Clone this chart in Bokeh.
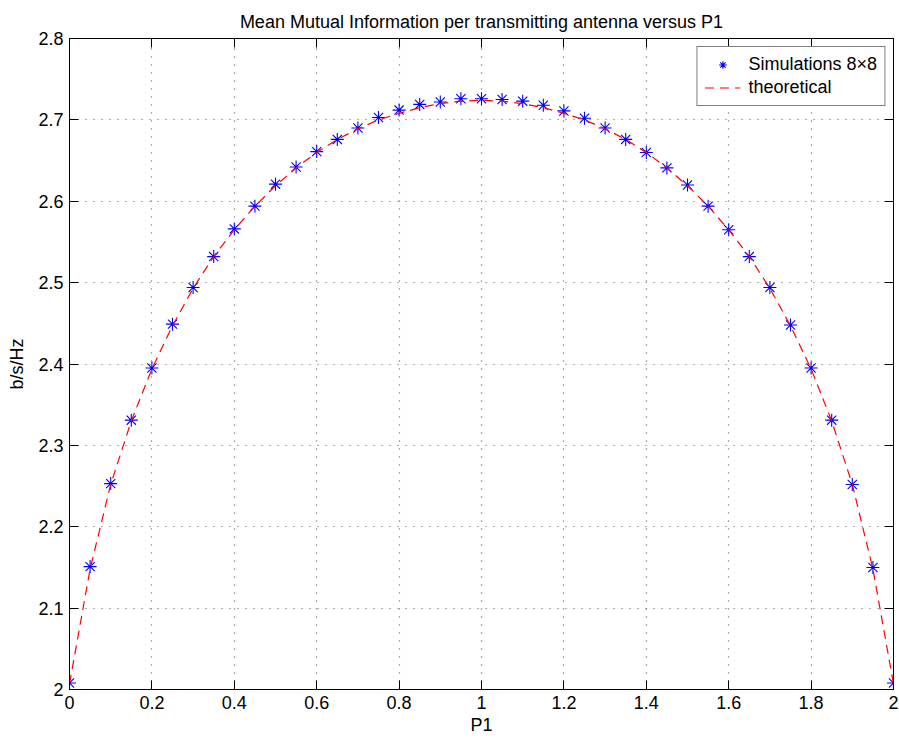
from bokeh.plotting import figure
from bokeh.models import (ColumnDataSource, Range1d, FixedTicker, LinearAxis,
                          Legend, LegendItem)
from bokeh.embed import file_html
from bokeh.resources import INLINE

# ---- data ----
p1 = [0.00, 0.05, 0.10, 0.15, 0.20, 0.25, 0.30, 0.35, 0.40, 0.45,
      0.50, 0.55, 0.60, 0.65, 0.70, 0.75, 0.80, 0.85, 0.90, 0.95,
      1.00, 1.05, 1.10, 1.15, 1.20, 1.25, 1.30, 1.35, 1.40, 1.45,
      1.50, 1.55, 1.60, 1.65, 1.70, 1.75, 1.80, 1.85, 1.90, 1.95, 2.00]
sim_8x8 = [2.008, 2.151, 2.253, 2.331, 2.395, 2.449, 2.494, 2.532, 2.566, 2.594,
           2.621, 2.642, 2.661, 2.676, 2.690, 2.703, 2.712, 2.719, 2.722, 2.726,
           2.726, 2.725, 2.723, 2.718, 2.711, 2.702, 2.690, 2.676, 2.660, 2.641,
           2.620, 2.594, 2.565, 2.532, 2.494, 2.448, 2.395, 2.331, 2.252, 2.150, 2.008]
theoretical = [2.007, 2.148, 2.252, 2.330, 2.394, 2.447, 2.493, 2.532, 2.565, 2.594,
               2.619, 2.641, 2.660, 2.676, 2.689, 2.700, 2.708, 2.715, 2.720, 2.723,
               2.724, 2.723, 2.720, 2.715, 2.708, 2.700, 2.689, 2.676, 2.660, 2.641,
               2.619, 2.594, 2.565, 2.532, 2.493, 2.447, 2.394, 2.330, 2.252, 2.148, 2.007]

x_ticks = [0.0, 0.2, 0.4, 0.6, 0.8, 1.0, 1.2, 1.4, 1.6, 1.8, 2.0]
x_tick_labels = ["0", "0.2", "0.4", "0.6", "0.8", "1", "1.2", "1.4", "1.6", "1.8", "2"]
y_ticks = [2.0, 2.1, 2.2, 2.3, 2.4, 2.5, 2.6, 2.7, 2.8]
y_tick_labels = ["2", "2.1", "2.2", "2.3", "2.4", "2.5", "2.6", "2.7", "2.8"]

title_text = "Mean Mutual Information per transmitting antenna versus P1"
x_label = "P1"
y_label = "b/s/Hz"
sim_label = "Simulations 8\u00d78"
theo_label = "theoretical"

FONT = "Liberation Sans"

src_sim = ColumnDataSource(dict(x=p1, y=sim_8x8))
src_theo = ColumnDataSource(dict(x=p1, y=theoretical))

p = figure(width=899, height=740, output_backend="svg", toolbar_location=None,
           x_range=Range1d(0, 2), y_range=Range1d(2, 2.8),
           min_border_left=69, min_border_right=6, min_border_top=38,
           min_border_bottom=51, x_axis_label=x_label, y_axis_label=y_label)

p.background_fill_color = "white"
p.border_fill_color = "white"
p.outline_line_color = "black"
p.outline_line_width = 1

p.title.text = title_text
p.title.align = "center"
p.title.text_font = FONT
p.title.text_font_size = "18px"
p.title.text_font_style = "normal"
p.title.text_color = "black"
p.title.standoff = 14

for ax, ticks, labels in ((p.xaxis[0], x_ticks, x_tick_labels),
                          (p.yaxis[0], y_ticks, y_tick_labels)):
    ax.ticker = FixedTicker(ticks=ticks)
    ax.major_label_overrides = {t: l for t, l in zip(ticks, labels)}
    ax.major_tick_in = 9
    ax.major_tick_out = 0
    ax.minor_tick_in = 0
    ax.minor_tick_out = 0
    ax.major_tick_line_color = "black"
    ax.axis_line_color = "black"
    ax.major_label_text_font = FONT
    ax.major_label_text_font_size = "18px"
    ax.major_label_text_color = "black"
    ax.major_label_standoff = 6
    ax.axis_label_text_font = FONT
    ax.axis_label_text_font_size = "18px"
    ax.axis_label_text_font_style = "normal"
    ax.axis_label_text_color = "black"
p.xaxis[0].axis_label_standoff = 3
p.yaxis[0].axis_label_standoff = 8

# mirrored tick marks on top and right (box on), without labels
for loc, ticks in (("above", x_ticks), ("right", y_ticks)):
    ax = LinearAxis(ticker=FixedTicker(ticks=ticks))
    ax.major_label_overrides = {t: "" for t in ticks}
    ax.major_tick_in = 9
    ax.major_tick_out = 0
    ax.minor_tick_in = 0
    ax.minor_tick_out = 0
    ax.major_label_standoff = 0
    ax.major_tick_line_color = "black"
    ax.axis_line_color = "black"
    p.add_layout(ax, loc)

# grid
p.xgrid.ticker = FixedTicker(ticks=x_ticks)
p.ygrid.ticker = FixedTicker(ticks=y_ticks)
for g in (p.xgrid[0], p.ygrid[0]):
    g.grid_line_color = "#333333"
    g.grid_line_dash = "1 7"
    g.grid_line_width = 1.2
    g.grid_line_alpha = 0.8

r_sim = p.scatter("x", "y", source=src_sim, marker="asterisk", size=13,
                  line_color="#0000ff", line_width=1.1)
r_theo = p.line("x", "y", source=src_theo, line_color="#ff0000",
                line_dash="9 6", line_width=1.2)

legend = Legend(items=[LegendItem(label=sim_label, renderers=[r_sim]),
                       LegendItem(label=theo_label, renderers=[r_theo])],
                location="top_right")
legend.label_text_font = FONT
legend.label_text_font_size = "18px"
legend.label_text_color = "black"
legend.border_line_color = "black"
legend.border_line_width = 1
legend.background_fill_color = "white"
legend.background_fill_alpha = 1
legend.margin = 8
legend.padding = 7
legend.spacing = 2
legend.glyph_width = 36
legend.glyph_height = 19
legend.label_height = 19
legend.label_standoff = 8
p.add_layout(legend, "center")

open("out.html", "w").write(file_html(p, INLINE))
